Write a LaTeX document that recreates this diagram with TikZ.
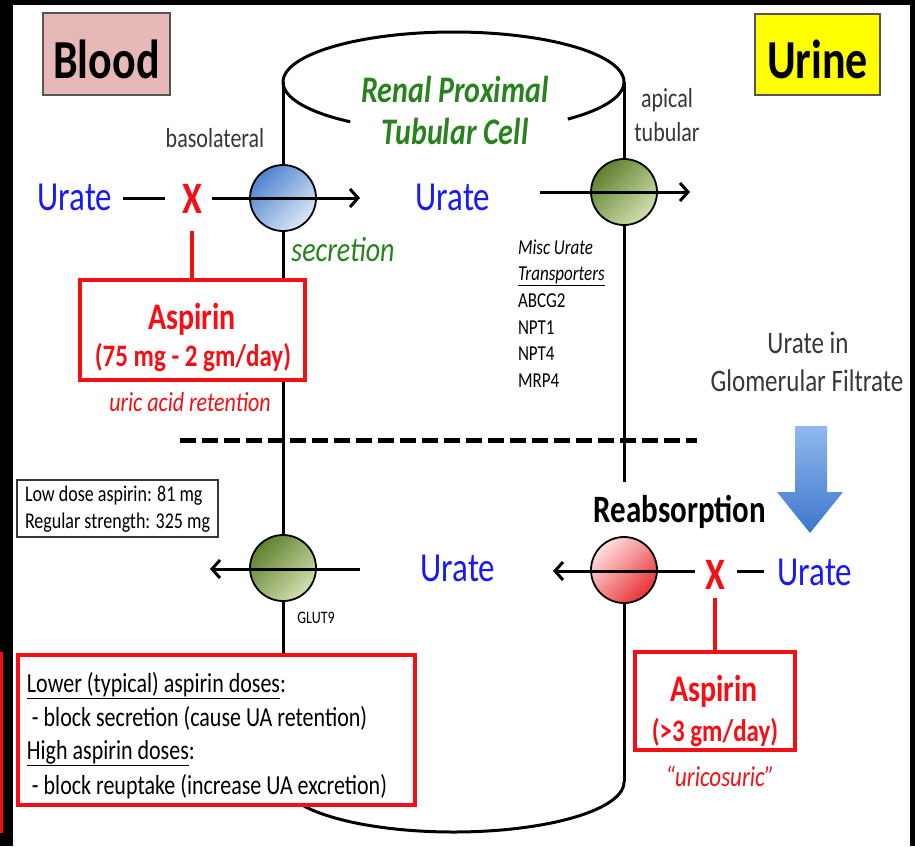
\documentclass[tikz,border=0pt]{standalone}
\usepackage{fontspec}
\setmainfont{Carlito}
\usepackage{graphicx}
\usetikzlibrary{arrows.meta}
\definecolor{ublue}{RGB}{25,25,245}
\definecolor{ured}{RGB}{245,15,20}
\definecolor{tgreen}{RGB}{40,130,30}
\definecolor{tgray}{RGB}{55,55,55}
\definecolor{bloodpink}{RGB}{230,185,184}
\definecolor{urineyellow}{RGB}{255,255,0}
\definecolor{bdark}{RGB}{80,130,205}
\definecolor{blight}{RGB}{220,232,248}
\definecolor{gdark}{RGB}{95,128,45}
\definecolor{glight}{RGB}{210,225,175}
\definecolor{rdark}{RGB}{232,50,55}
\definecolor{rlight}{RGB}{255,225,225}
\definecolor{atop}{RGB}{145,185,238}
\definecolor{abot}{RGB}{60,118,205}
\definecolor{boxgray}{RGB}{85,85,85}
\newcommand{\vs}[1]{\scalebox{1}[1.25]{#1}}
\newcommand{\fs}[1]{\fontsize{#1}{#1}\selectfont}
\begin{document}
\begin{tikzpicture}[x=1pt,y=-1pt,
  t/.style={inner sep=0pt, outer sep=0pt, anchor=base},
  tl/.style={inner sep=0pt, outer sep=0pt, anchor=base west},
  cyl/.style={line width=3pt, black},
  conn/.style={line width=3pt, black},
  arr/.style={line width=3pt, black, -{Straight Barb[length=8pt,width=18pt]}},
  redln/.style={line width=4pt, ured},
  trans/.style={circle, draw=black, line width=1.8pt, minimum size=66pt, inner sep=0pt},
  redbox/.style={draw=ured, line width=3.5pt, fill=white, inner sep=0pt},
  labelbox/.style={draw=boxgray, line width=1.5pt, inner sep=0pt}]
\fill[black] (0,0) rectangle (915,846);
\useasboundingbox (0,0) rectangle (915,846);
\fill[white] (13,5) rectangle (910,846);
\fill[ured] (0,652) rectangle (3,833);

% Cylinder
\coordinate (tL) at (283,82);
\coordinate (tR) at (624,82);
\coordinate (bL) at (283,782);
\coordinate (bR) at (624,782);
\coordinate (rMid) at (624,482);
\draw[cyl] plot[domain=-232.7:47.9, samples=150, smooth] ({453.5+170.5*cos(\x)},{82+50*sin(\x)});
\draw[cyl] plot[domain=0:180, samples=100, smooth] ({453.5+170.5*cos(\x)},{782+50*sin(\x)});
\draw[cyl] (tL) -- (bL);
\draw[cyl] (tR) -- (rMid);

% Dashed separator
\coordinate (dL) at (180,440);
\coordinate (dR) at (697,440);
\draw[line width=5pt, dash pattern=on 16pt off 6pt] (dL) -- (dR);

% Blood / Urine
\node[labelbox, fill=bloodpink, minimum width=127pt, minimum height=82pt] (bloodbox) at (106.5,54) {};
\node[t] (blood) at (106.5,78) {\fs{44}\bfseries\vs{Blood}};
\node[labelbox, fill=urineyellow, minimum width=125pt, minimum height=81pt] (urinebox) at (817.5,54.5) {};
\node[t] (urine) at (817.5,78) {\fs{44}\bfseries\vs{Urine}};

% Title
\node[t, text=tgreen] (title1) at (455,102) {\fs{30}\bfseries\itshape\vs{Renal Proximal}};
\node[t, text=tgreen] (title2) at (455,144) {\fs{30}\bfseries\itshape\vs{Tubular Cell}};

\node[t, text=tgray] (baso) at (215,147) {\fs{22}\vs{basolateral}};
\node[t, text=tgray] (apical) at (667,107) {\fs{22}\vs{apical}};
\node[t, text=tgray] (tubular) at (667,141) {\fs{22}\vs{tubular}};

% Transporter circles
\node[trans, left color=bdark, right color=blight, shading angle=45] (c1) at (283,198) {};
\node[trans, left color=gdark, right color=glight, shading angle=45] (c2) at (624,192) {};
\node[trans, left color=gdark, right color=glight, shading angle=45] (c3) at (283,568) {};
\node[trans, left color=rlight, right color=rdark, shading angle=45] (c4) at (624,570) {};
\draw[cyl] (c4) -- (bR);

% Row 1 (secretion)
\node[t, text=ublue] (uL) at (75,210) {\fs{33}\vs{Urate}};
\node[t, text=ured] (x1) at (192,213) {\fs{36}\bfseries\vs{X}};
\coordinate (a1e) at (360,198);
\draw[conn, shorten <=11pt, shorten >=17pt] (uL.east |- a1e) -- (x1.west |- a1e);
\draw[arr, shorten <=10pt] (x1.east |- a1e) -- (a1e);
\node[t, text=ublue] (uM) at (453,210) {\fs{33}\vs{Urate}};
\coordinate (a2s) at (540,192);
\coordinate (a2e) at (690,192);
\draw[arr] (a2s) -- (a2e);
\node[t, text=tgreen] (secr) at (343,261) {\fs{28}\itshape\vs{secretion}};

% Misc transporters
\node[tl] (misc1) at (518,254) {\fs{17}\itshape\vs{Misc Urate}};
\node[tl] (misc2) at (518,280) {\fs{17}\itshape\vs{\underline{Transporters}}};
\node[tl] (misc3) at (518,307) {\fs{17}\vs{ABCG2}};
\node[tl] (misc4) at (518,334) {\fs{17}\vs{NPT1}};
\node[tl] (misc5) at (518,360) {\fs{17}\vs{NPT4}};
\node[tl] (misc6) at (518,387) {\fs{17}\vs{MRP4}};

% Aspirin box 1
\node[redbox, minimum width=225pt, minimum height=100pt] (asp1) at (192.5,330) {};
\draw[redln, shorten <=18pt] (x1.south) -- (x1.south |- asp1.north);
\node[t, text=ured] (asp1a) at (192,329) {\fs{30}\bfseries\vs{Aspirin}};
\node[t, text=ured] (asp1b) at (193,366) {\fs{25}\bfseries\vs{(75 mg - 2 gm/day)}};
\node[t, text=ured] (uar) at (190,411) {\fs{22}\itshape\vs{uric acid retention}};

% Glomerular filtrate
\node[t, text=tgray] (gf1) at (808,353) {\fs{25}\vs{Urate in}};
\node[t, text=tgray] (gf2) at (807,391) {\fs{25}\vs{Glomerular Filtrate}};
\shade[top color=atop, bottom color=abot] (795,426) -- (827,426) -- (827,492) -- (843,492) -- (810,533) -- (777,492) -- (795,492) -- cycle;

% Low dose box
\node[draw=tgray, line width=1.2pt, minimum width=201pt, minimum height=57pt, inner sep=0pt] (lowbox) at (117.5,508.5) {};
\node[tl] (low1) at (25,501) {\fs{18}\vs{Low dose aspirin: 81 mg}};
\node[tl] (low2) at (25,528) {\fs{18}\vs{Regular strength: 325 mg}};

% Row 2 (reabsorption)
\node[t] (reab) at (680,522) {\fs{31}\bfseries\vs{Reabsorption}};
\coordinate (a3s) at (360,569);
\coordinate (a3e) at (210,569);
\draw[arr] (a3s) -- (a3e);
\node[t] (glut) at (316,623) {\fs{14}\vs{GLUT9}};
\node[t, text=ublue] (uM2) at (458,581) {\fs{33}\vs{Urate}};
\node[t, text=ured] (x2) at (715,589) {\fs{36}\bfseries\vs{X}};
\node[t, text=ublue] (uR) at (815,585) {\fs{33}\vs{Urate}};
\coordinate (a4e) at (553,571);
\draw[arr, shorten <=10pt] (x2.west |- a4e) -- (a4e);
\draw[conn, shorten <=12pt, shorten >=14pt] (x2.east |- a4e) -- (uR.west |- a4e);

% Aspirin box 2
\node[redbox, minimum width=160pt, minimum height=98pt] (asp2) at (715,701) {};
\draw[redln, shorten <=9pt] (x2.south) -- (x2.south |- asp2.north);
\node[t, text=ured] (asp2a) at (714,701) {\fs{30}\bfseries\vs{Aspirin}};
\node[t, text=ured] (asp2b) at (715,741) {\fs{25}\bfseries\vs{(>3 gm/day)}};
\node[t, text=ured] (uric) at (720,786) {\fs{23}\itshape\vs{“uricosuric”}};

% Summary box
\node[redbox, line width=4.5pt, minimum width=397pt, minimum height=150pt] (sumbox) at (216.5,730) {};
\node[tl] (s1) at (27,692) {\fs{22}\vs{\underline{Lower (typical) aspirin doses}:}};
\node[tl] (s2) at (27,726) {\fs{22}\vs{\ - block secretion (cause UA retention)}};
\node[tl] (s3) at (27,759) {\fs{22}\vs{\underline{High aspirin doses}:}};
\node[tl] (s4) at (27,794) {\fs{22}\vs{\ - block reuptake (increase UA excretion)}};
\end{tikzpicture}
\end{document}
